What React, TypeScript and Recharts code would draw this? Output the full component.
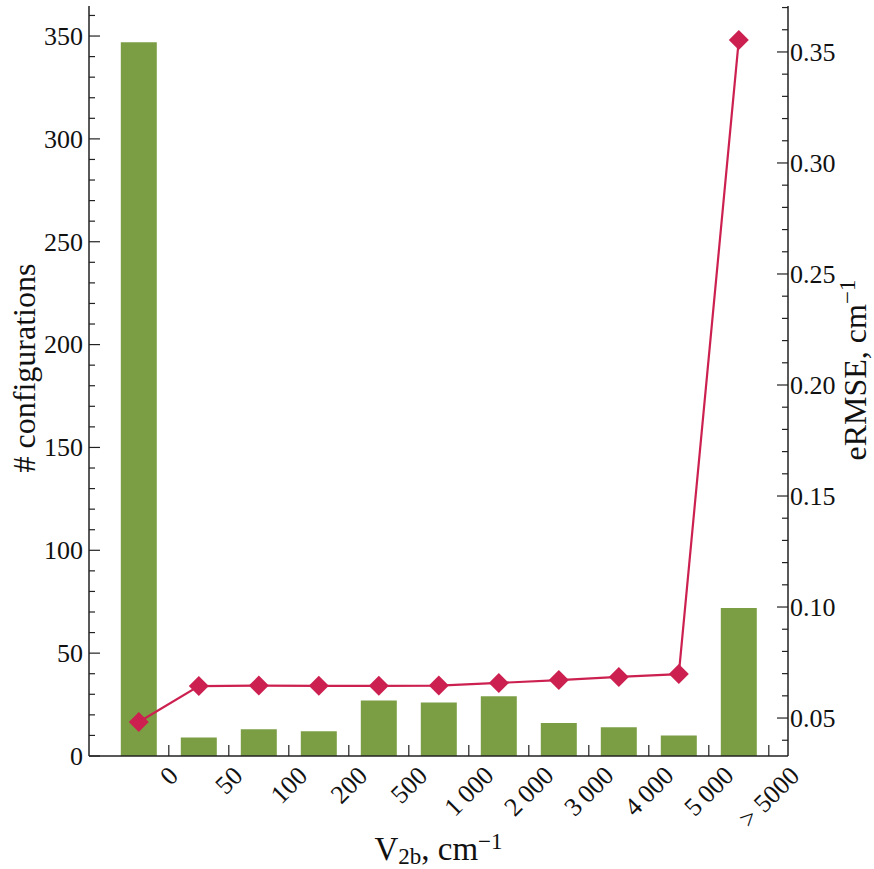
import { ComposedChart, Bar, Line, XAxis, YAxis, Label } from 'recharts'

// bin edges shown under the bars, and per-bin values
const binLabels = ['0', '50', '100', '200', '500', '1\u2009000', '2\u2009000', '3\u2009000', '4\u2009000', '5\u2009000', '> 5000']
const configCounts = [347, 9, 13, 12, 27, 26, 29, 16, 14, 10, 72]
const ermseValues = [0.0482, 0.0644, 0.0646, 0.0645, 0.0645, 0.0646, 0.0658, 0.0671, 0.0685, 0.0698, 0.3554]

// axis ticks (major + minor)
const binEdgeTicks = binLabels.map((_, i) => i + 0.5)
const countTicks = Array.from({ length: 37 }, (_, i) => i * 10)
const ermseTicks = Array.from({ length: 34 }, (_, i) => +(0.04 + i * 0.01).toFixed(2))

const data = configCounts.map((count, i) => ({ idx: i, count, ermse: ermseValues[i] }))

const FONT = "'Liberation Serif', 'DejaVu Serif', serif"
const AXIS = '#222'
const BAR = '#7b9e44'
const LINE = '#cc2150'

// rough glyph widths (em) for the serif font, used to centre rotated labels
function textWidth(s: string, size: number) {
  let w = 0
  for (const ch of s) {
    if (ch >= '0' && ch <= '9') w += 0.5
    else if (ch === '\u2009') w += 0.17
    else if (ch === '>') w += 0.564
    else w += 0.25
  }
  return w * size
}

function BottomTick({ x, y, payload }: any) {
  const label = binLabels[Math.round(payload.value - 0.5)] ?? ''
  const fs = 26
  const w = textWidth(label, fs)
  const h = fs * 0.66
  const cy = y + 9 + (w + h) / (2 * Math.SQRT2)
  return (
    <g>
      <line x1={x} y1={y} x2={x} y2={y - 11} stroke={AXIS} strokeWidth={1.2} />
      <text
        x={x}
        y={cy}
        dy="0.34em"
        textAnchor="middle"
        fontFamily={FONT}
        fontSize={fs}
        fill="#111"
        transform={`rotate(-45 ${x} ${cy})`}
      >
        {label}
      </text>
    </g>
  )
}

function TopTick({ x, y }: any) {
  return <line x1={x} y1={y} x2={x} y2={y + 11} stroke={AXIS} strokeWidth={1.2} />
}

function LeftTick({ x, y, payload }: any) {
  const major = payload.value % 50 === 0
  return (
    <g>
      <line x1={x} y1={y} x2={x + (major ? 11 : 6)} y2={y} stroke={AXIS} strokeWidth={1.2} />
      {major && (
        <text x={x - 6} y={y} dy="0.34em" textAnchor="end" fontFamily={FONT} fontSize={26} fill="#111">
          {payload.value}
        </text>
      )}
    </g>
  )
}

function RightTick({ x, y, payload }: any) {
  const major = Math.round(payload.value * 100) % 5 === 0
  return (
    <g>
      <line x1={x} y1={y} x2={x - (major ? 11 : 6)} y2={y} stroke={AXIS} strokeWidth={1.2} />
      {major && (
        <text x={x + 2} y={y} dy="0.34em" textAnchor="start" fontFamily={FONT} fontSize={26} fill="#111">
          {payload.value.toFixed(2)}
        </text>
      )}
    </g>
  )
}

function Diamond({ cx, cy }: any) {
  if (cx == null || cy == null) return null
  const r = 10
  return <polygon points={`${cx},${cy - r} ${cx + r},${cy} ${cx},${cy + r} ${cx - r},${cy}`} fill={LINE} />
}

export default function App() {
  return (
    <div style={{ position: 'absolute', left: 0, top: 0, width: 874, height: 869, background: '#fff' }}>
      <ComposedChart width={874} height={869} data={data} margin={{ top: 6, right: 0, bottom: 0, left: 0 }}>
        <XAxis
          xAxisId="bottom"
          dataKey="idx"
          type="number"
          domain={[-0.83, 10.82]}
          allowDataOverflow
          ticks={binEdgeTicks}
          interval={0}
          height={113}
          tickSize={0}
          tickMargin={0}
          tickLine={false}
          axisLine={{ stroke: AXIS, strokeWidth: 1.5 }}
          tick={<BottomTick />}
        >
          <Label
            content={({ viewBox }: any) => (
              <text
                x={viewBox.x + viewBox.width / 2}
                y={viewBox.y + 104}
                textAnchor="middle"
                fontFamily={FONT}
                fontSize={33}
                fill="#111"
              >
                V<tspan dy={4} fontSize={23}>2b</tspan>
                <tspan dy={-4}>, cm</tspan>
                <tspan dy={-11} fontSize={23}>{'\u22121'}</tspan>
              </text>
            )}
          />
        </XAxis>
        <XAxis
          xAxisId="top"
          orientation="top"
          type="number"
          domain={[-0.83, 10.82]}
          allowDataOverflow
          ticks={binEdgeTicks}
          interval={0}
          height={0}
          tickSize={0}
          tickMargin={0}
          tickLine={false}
          axisLine={{ stroke: AXIS, strokeWidth: 1.5 }}
          tick={<TopTick />}
        />
        <YAxis
          yAxisId="left"
          orientation="left"
          domain={[0, 364.6]}
          allowDataOverflow
          ticks={countTicks}
          interval={0}
          width={89}
          tickSize={0}
          tickMargin={0}
          tickLine={false}
          axisLine={{ stroke: AXIS, strokeWidth: 1.5 }}
          tick={<LeftTick />}
        >
          <Label
            content={({ viewBox }: any) => {
              const x = 35
              const y = viewBox.y + viewBox.height / 2 - 13
              return (
                <text
                  x={x}
                  y={y}
                  textAnchor="middle"
                  fontFamily={FONT}
                  fontSize={32}
                  fill="#111"
                  transform={`rotate(-90 ${x} ${y})`}
                >
                  # configurations
                </text>
              )
            }}
          />
        </YAxis>
        <YAxis
          yAxisId="right"
          orientation="right"
          domain={[0.0329, 0.3707]}
          allowDataOverflow
          ticks={ermseTicks}
          interval={0}
          width={86}
          tickSize={0}
          tickMargin={0}
          tickLine={false}
          axisLine={{ stroke: AXIS, strokeWidth: 1.5 }}
          tick={<RightTick />}
        >
          <Label
            content={({ viewBox }: any) => {
              const x = viewBox.x + 78
              const y = viewBox.y + viewBox.height / 2 - 11
              return (
                <text
                  x={x}
                  y={y}
                  textAnchor="middle"
                  fontFamily={FONT}
                  fontSize={32}
                  fill="#111"
                  transform={`rotate(-90 ${x} ${y})`}
                >
                  eRMSE, cm<tspan dy={-11} fontSize={23}>{'\u22121'}</tspan>
                </text>
              )
            }}
          />
        </YAxis>
        <Bar
          xAxisId="bottom"
          yAxisId="left"
          dataKey="count"
          fill={BAR}
          barSize={36}
          isAnimationActive={false}
        />
        <Line
          xAxisId="bottom"
          yAxisId="right"
          dataKey="ermse"
          stroke={LINE}
          strokeWidth={2.2}
          dot={<Diamond />}
          activeDot={false}
          isAnimationActive={false}
        />
      </ComposedChart>
    </div>
  )
}
